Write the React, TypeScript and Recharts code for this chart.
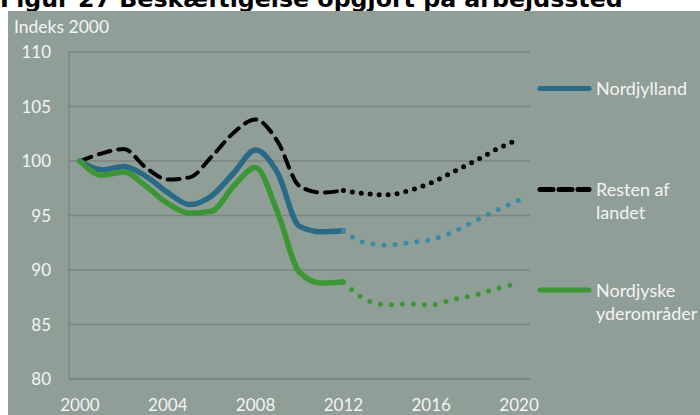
import React from 'react';
import { LineChart, Line, XAxis, YAxis, CartesianGrid } from 'recharts';

const years = [2000, 2001, 2002, 2003, 2004, 2005, 2006, 2007, 2008, 2009, 2010, 2011, 2012, 2013, 2014, 2015, 2016, 2017, 2018, 2019, 2020];

// historical 2000-2012 (solid) and projection 2012-2020 (dotted)
const nordHist = [100, 99.2, 99.5, 98.6, 97.1, 96.0, 96.8, 98.9, 101.0, 98.9, 94.0, 93.5, 93.6];
const nordProj = [93.6, 92.5, 92.3, 92.5, 92.8, 93.5, 94.5, 95.5, 96.4];
const restHist = [100, 100.7, 101.1, 99.4, 98.3, 98.5, 100.4, 102.6, 103.8, 101.8, 97.7, 97.1, 97.3];
const restProj = [97.3, 97.0, 96.9, 97.3, 98.0, 99.0, 100.0, 101.1, 102.0];
const yderHist = [100, 98.7, 99.0, 97.7, 96.1, 95.2, 95.4, 97.7, 99.4, 95.3, 89.8, 88.8, 88.9];
const yderProj = [88.9, 87.3, 86.8, 86.9, 86.8, 87.3, 87.7, 88.3, 88.8];

const xTicks = [2000, 2004, 2008, 2012, 2016, 2020];
const yTicks = [80, 85, 90, 95, 100, 105, 110];

const projStart = 12;
const data = years.map((year, i) => ({
  year,
  nordHist: i <= projStart ? nordHist[i] : null,
  nordProj: i >= projStart ? nordProj[i - projStart] : null,
  restHist: i <= projStart ? restHist[i] : null,
  restProj: i >= projStart ? restProj[i - projStart] : null,
  yderHist: i <= projStart ? yderHist[i] : null,
  yderProj: i >= projStart ? yderProj[i - projStart] : null,
}));

const BLUE = '#2b6a86';
const BLUE_LIGHT = '#3a8aab';
const GREEN = '#3d9635';
const BG = '#8f9e96';
const GRID = '#7d8580';
const TEXT = '#f4f4f4';
const FONT = 'Lato, "Open Sans", sans-serif';

const tickStyle = { fill: TEXT, fontSize: 17, fontFamily: FONT };

const legendItems = [
  { label: ['Nordjylland'], color: BLUE, dash: undefined, y: 77.5 },
  { label: ['Resten af', 'landet'], color: '#000', dash: '13 6', y: 178.5 },
  { label: ['Nordjyske', 'yderområder'], color: GREEN, dash: undefined, y: 279 },
];

export default function App() {
  return (
    <div style={{ position: 'fixed', left: 0, top: 0, width: 700, height: 415, background: '#fff', overflow: 'hidden' }}>
      <svg width={700} height={12} style={{ position: 'absolute', left: 0, top: 0 }}>
        <text x={0} y={7} fontSize={23.7} fontWeight="bold" fontFamily='"DejaVu Sans", Verdana, sans-serif' fill="#000">
          Figur 27 Beskæftigelse opgjort på arbejdssted
        </text>
      </svg>
      <div style={{ position: 'absolute', left: 8, top: 11, width: 692, height: 404, background: BG }}>
        <LineChart width={692} height={404} data={data} margin={{ top: 41, right: 170, bottom: 0, left: 0 }}>
          <CartesianGrid stroke={GRID} strokeWidth={1.3} vertical={false} />
          <XAxis
            dataKey="year"
            type="number"
            domain={[1999.5, 2020.5]}
            ticks={xTicks}
            height={36}
            tickLine={false}
            tickSize={0}
            tickMargin={20}
            axisLine={{ stroke: GRID, strokeWidth: 1.3 }}
            tick={tickStyle}
          />
          <YAxis
            domain={[80, 110]}
            ticks={yTicks}
            width={61}
            tickLine={false}
            tickSize={0}
            tickMargin={18}
            axisLine={{ stroke: GRID, strokeWidth: 1.3 }}
            tick={tickStyle}
          />
          <Line type="monotone" dataKey="restHist" stroke="#000" strokeWidth={4} strokeDasharray="12 8" strokeLinecap="round" dot={false} isAnimationActive={false} />
          <Line type="monotone" dataKey="restProj" stroke="#000" strokeWidth={5} strokeDasharray="0 9" strokeLinecap="round" dot={false} isAnimationActive={false} />
          <Line type="monotone" dataKey="nordHist" stroke={BLUE} strokeWidth={5.5} strokeLinecap="round" dot={false} isAnimationActive={false} />
          <Line type="monotone" dataKey="nordProj" stroke={BLUE_LIGHT} strokeWidth={5} strokeDasharray="0 11" strokeLinecap="round" dot={false} isAnimationActive={false} />
          <Line type="monotone" dataKey="yderHist" stroke={GREEN} strokeWidth={5.5} strokeLinecap="round" dot={false} isAnimationActive={false} />
          <Line type="monotone" dataKey="yderProj" stroke={GREEN} strokeWidth={5} strokeDasharray="0 11" strokeLinecap="round" dot={false} isAnimationActive={false} />
        </LineChart>
        <svg width={692} height={404} style={{ position: 'absolute', left: 0, top: 0, pointerEvents: 'none' }}>
          <text x={6} y={22.3} fontSize={17.5} fontFamily={FONT} fill={TEXT}>Indeks 2000</text>
          {legendItems.map((item) => (
            <g key={item.label[0]}>
              <line x1={532} y1={item.y} x2={581} y2={item.y} stroke={item.color} strokeWidth={5} strokeLinecap="round" strokeDasharray={item.dash} />
              {item.label.map((l, k) => (
                <text key={l} x={588} y={item.y + 6.5 + k * 23} fontSize={18} fontFamily={FONT} fill={TEXT}>{l}</text>
              ))}
            </g>
          ))}
        </svg>
      </div>
    </div>
  );
}
